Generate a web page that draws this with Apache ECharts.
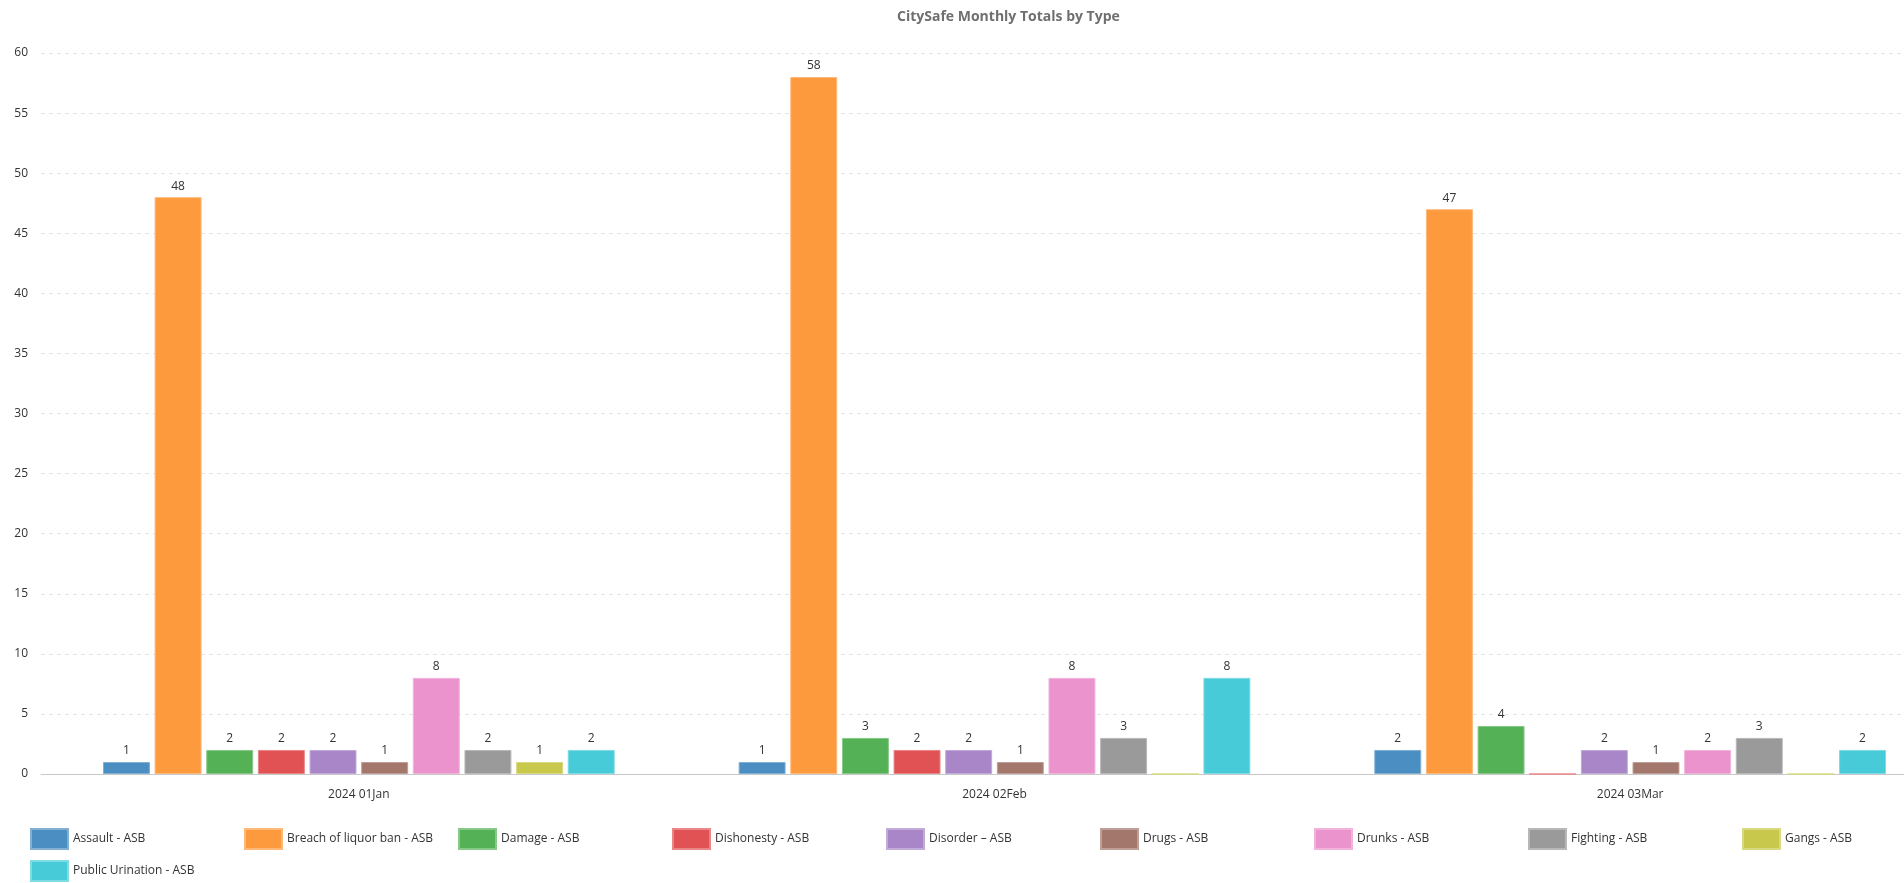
<!DOCTYPE html>
<html>
<head>
<meta charset="utf-8">
<title>CitySafe Monthly Totals by Type</title>
<script src="https://cdn.jsdelivr.net/npm/echarts@6/dist/echarts.min.js"></script>
<style>
  html, body { margin: 0; padding: 0; background: #fff; overflow: hidden; }
  /* plot area runs slightly past the right edge of the window */
  #chart { width: 1951px; height: 883px; }
</style>
</head>
<body>
<div id="chart"></div>
<script>
// Months shown on the category axis
const months = ['2024 01Jan', '2024 02Feb', '2024 03Mar'];

// Incident types (one bar series each)
const types = [
  'Assault - ASB',
  'Breach of liquor ban - ASB',
  'Damage - ASB',
  'Dishonesty - ASB',
  'Disorder \u2013 ASB',
  'Drugs - ASB',
  'Drunks - ASB',
  'Fighting - ASB',
  'Gangs - ASB',
  'Public Urination - ASB'
];

// Monthly totals per type, in month order
const assault         = [1, 1, 2];
const liquorBan       = [48, 58, 47];
const damage          = [2, 3, 4];
const dishonesty      = [2, 2, 0];
const disorder        = [2, 2, 2];
const drugs           = [1, 1, 1];
const drunks          = [8, 8, 2];
const fighting        = [2, 3, 3];
const gangs           = [1, 0, 0];
const publicUrination = [2, 8, 2];

const seriesValues = [assault, liquorBan, damage, dishonesty, disorder,
                      drugs, drunks, fighting, gangs, publicUrination];

// Value axis ticks
const yTicks = { min: 0, max: 60, interval: 5 };

const colors = ['#4b8ec2', '#fe9a3e', '#55b156', '#e05254', '#a886c8',
                '#a4776d', '#eb93cc', '#9a9a9a', '#c8c84c', '#48cbd9'];

// lighter outline for each bar
function tint(hex, amt) {
  const n = parseInt(hex.slice(1), 16);
  const r = (n >> 16) & 255, g = (n >> 8) & 255, b = n & 255;
  const m = c => Math.round(c + (255 - c) * amt);
  return 'rgb(' + m(r) + ',' + m(g) + ',' + m(b) + ')';
}

const font = '"Open Sans", "Noto Sans", sans-serif';

// legend laid out on a fixed pitch: nine per row, then wrap
const legendPitch = 214;
const legendPerRow = 9;
const legends = types.map((name, i) => ({
  data: [name],
  left: 30 + legendPitch * (i % legendPerRow),
  top: 828 + 32 * Math.floor(i / legendPerRow),
  itemWidth: 37,
  itemHeight: 20,
  icon: 'rect',
  padding: 0,
  textStyle: { fontFamily: font, fontSize: 12, color: '#333' }
}));

const chart = echarts.init(document.getElementById('chart'), null, { renderer: 'canvas' });

chart.setOption({
  animation: false,
  color: colors,
  textStyle: { fontFamily: font },
  title: {
    text: 'CitySafe Monthly Totals by Type',
    left: 892,
    top: 5,
    textStyle: { fontFamily: font, fontSize: 14, fontWeight: 'bold', color: '#6f6f6f' }
  },
  legend: legends,
  grid: { left: 41, top: 53, right: 3, height: 721, containLabel: false },
  xAxis: {
    type: 'category',
    data: months,
    axisLine: { lineStyle: { color: '#c8c8c8', width: 1 } },
    axisTick: { alignWithLabel: true, length: 5, lineStyle: { color: '#c8c8c8' } },
    axisLabel: { margin: 15, fontFamily: font, fontSize: 12, color: '#333' }
  },
  yAxis: {
    type: 'value',
    min: yTicks.min,
    max: yTicks.max,
    interval: yTicks.interval,
    axisLine: { show: false },
    axisTick: { show: false },
    axisLabel: { margin: 13, fontFamily: font, fontSize: 12, color: '#333' },
    splitLine: { lineStyle: { color: '#e6e6e6', type: [4, 4], width: 1 } }
  },
  series: types.map((name, i) => ({
    name: name,
    type: 'bar',
    data: seriesValues[i],
    barCategoryGap: '19.5%',
    barGap: '10%',
    itemStyle: { color: colors[i], borderColor: tint(colors[i], 0.3), borderWidth: 1 },
    label: {
      show: true,
      position: 'top',
      distance: 5,
      fontFamily: font,
      fontSize: 12,
      color: '#333',
      formatter: p => (p.value === 0 ? '' : String(p.value))
    }
  }))
});
</script>
</body>
</html>
